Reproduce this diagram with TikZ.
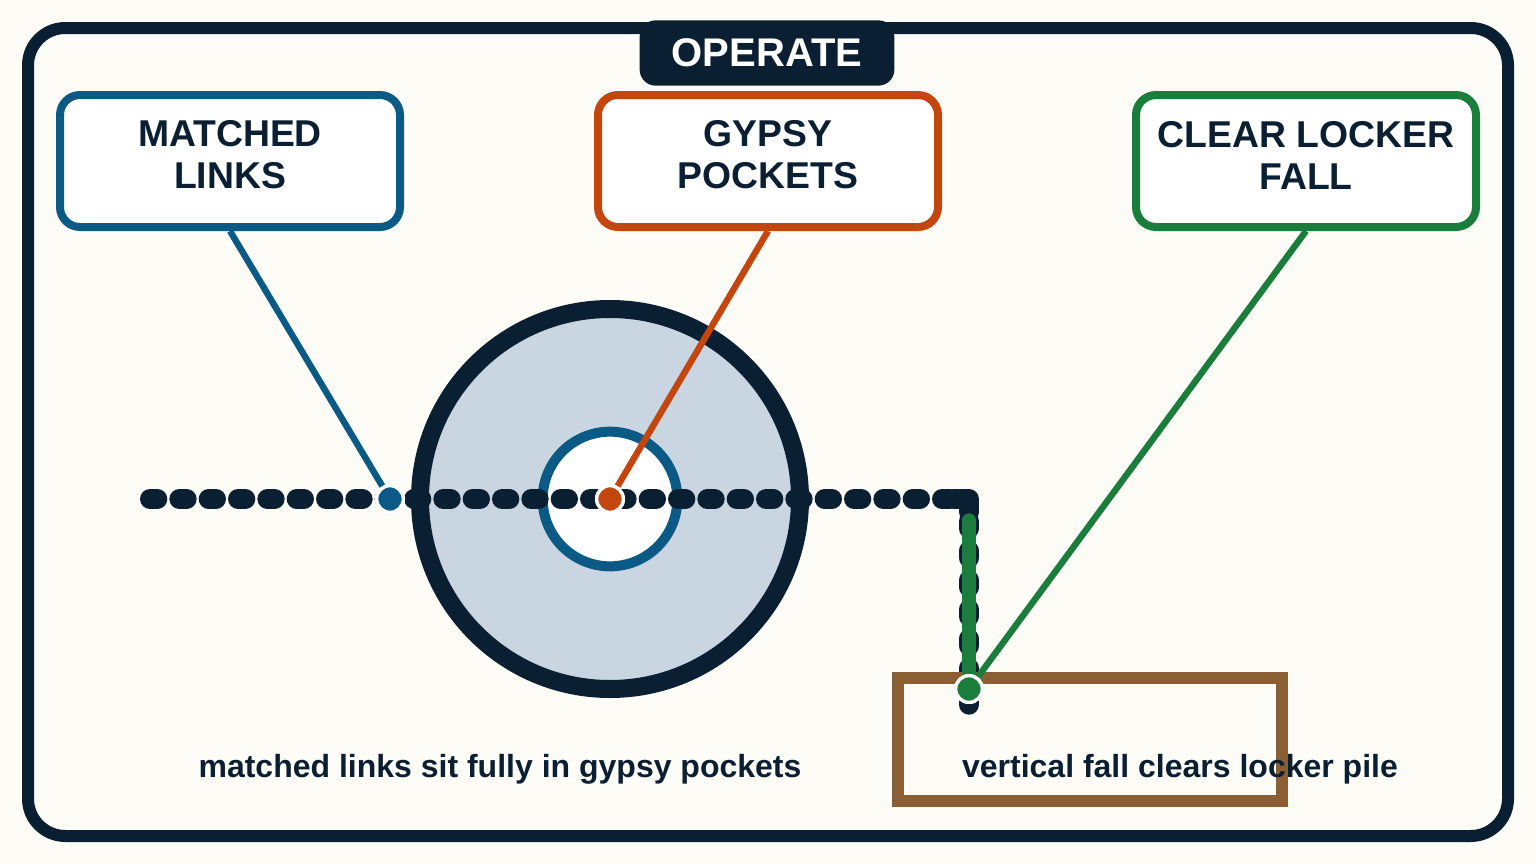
\documentclass[tikz,border=0pt]{standalone}
\usepackage{fontspec}
\setmainfont{Liberation Sans}
\begin{document}
\definecolor{navy}{HTML}{0B1F33}
\definecolor{bg}{HTML}{FDFCF7}
\definecolor{cblue}{HTML}{0B5A86}
\definecolor{corange}{HTML}{C4460F}
\definecolor{cgreen}{HTML}{1A7D3C}
\definecolor{cbrown}{HTML}{8B5E34}
\definecolor{gear}{HTML}{CAD5E2}
\begin{tikzpicture}[x=0.75pt,y=-0.75pt,
  box/.style={draw,line width=6pt,rounded corners=15pt,fill=white,minimum width=255pt,minimum height=99pt},
  btxt/.style={align=center,text=navy,font=\fontsize{28}{31.5}\selectfont\bfseries},
  lead/.style={line width=4.8pt},
  dot/.style={circle,draw=white,line width=2.5pt,minimum size=20pt,inner sep=0pt},
  lbl/.style={text=navy,font=\fontsize{24}{28}\selectfont\bfseries}]
\useasboundingbox (0,0) rectangle (1536,864);
\fill[bg] (0,0) rectangle (1536,864);
\draw[navy,line width=9pt,rounded corners=28pt,fill=bg] (28,28) rectangle (1508,836);
\node[fill=navy,rounded corners=12pt,minimum width=191pt,minimum height=49pt,text=white,font=\fontsize{30}{34}\selectfont\bfseries] (op) at (767,53) {OPERATE};
\node[box,draw=cblue] (ml) at (230,161) {};
\node[box,draw=corange] (gp) at (768,161) {};
\node[box,draw=cgreen] (cl) at (1306,161) {};
\node[btxt] (mlt) at (230,155) {MATCHED\\LINKS};
\node[btxt] (gpt) at (768,155) {GYPSY\\POCKETS};
\node[btxt] (clt) at (1306,155) {CLEAR LOCKER\\FALL};
% gear
\node[circle,draw=navy,fill=gear,line width=13.5pt,minimum size=285pt] (g) at (610,499) {};
\node[circle,draw=cblue,fill=white,line width=7.5pt,minimum size=101pt] (gi) at (610,499) {};
% chain
\coordinate (c0) at (150,499);
\coordinate (c1) at (969,499);
\coordinate (c2) at (969,712);
\draw[navy,line width=15pt,line cap=round,dash pattern=on 5.5pt off 16.5pt] (c0) -- (c1);
\draw[navy,line width=15pt,line cap=round,line join=round] (954,499) -- (c1) -- (969,512);
\draw[navy,line width=15pt,line cap=round,dash pattern=on 5.5pt off 16.5pt,dash phase=-1pt] (969,520) -- (c2);
\draw[cbrown,line width=9pt] (898,678) rectangle (1282,801);
\draw[cgreen,line width=10pt,line cap=round] (969,520) -- (969,672);
% leaders
\node[dot,fill=cblue] (d1) at (390,499) {};
\node[dot,fill=corange] (d2) at (610,499) {};
\node[dot,fill=cgreen] (d3) at (969,689) {};
\draw[cblue,lead] (ml.south) -- (d1);
\draw[corange,lead] (gp.south) -- (d2);
\draw[cgreen,lead] (cl.south) -- (d3);
\node[dot,fill=cblue] at (d1) {};
\node[dot,fill=corange] at (d2) {};
\node[dot,fill=cgreen] at (d3) {};
\node[lbl] (t1) at (500,769) {matched links sit fully in gypsy pockets};
\node[lbl] (t2) at (1180,769) {vertical fall clears locker pile};
\end{tikzpicture}
\end{document}
